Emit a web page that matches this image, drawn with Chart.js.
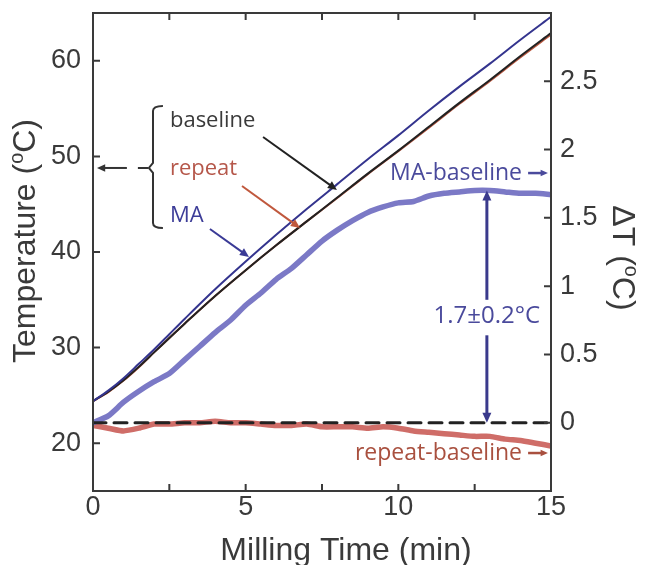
<!DOCTYPE html>
<html>
<head>
<meta charset="utf-8">
<title>Milling temperature</title>
<script src="https://cdn.jsdelivr.net/npm/chart.js@4.4.1/dist/chart.umd.min.js"></script>
<style>
  html, body { margin: 0; padding: 0; background: #fff; }
  #wrap { width: 645px; height: 565px; }
</style>
</head>
<body>
<div id="wrap"><canvas id="chart" width="645" height="565"></canvas></div>
<script>
// ---- Raw temperatures (left axis, °C) ----
const TIME = [0, 0.5, 1, 1.5, 2, 2.5, 3, 4, 5, 6, 7, 8, 9, 10, 11, 12, 13, 14, 15];
const BASELINE = [24.4, 25.4, 26.6, 28.0, 29.5, 31.0, 32.5, 35.4, 38.1, 40.7, 43.2, 45.7, 48.2, 50.6, 53.1, 55.6, 58.0, 60.5, 62.9];
const REPEAT = [24.4, 25.35, 26.55, 27.95, 29.5, 31.0, 32.5, 35.4, 38.1, 40.7, 43.2, 45.65, 48.15, 50.55, 53.0, 55.5, 57.9, 60.37, 62.75];
const MA = [24.4, 25.5, 26.8, 28.3, 29.8, 31.4, 33.0, 36.1, 39.0, 41.8, 44.5, 47.1, 49.7, 52.2, 54.8, 57.3, 59.7, 62.2, 64.6];

// ---- Differences against baseline (right axis, ΔT °C) ----
const TIME_DIFF = [0, 0.5, 1, 1.5, 2, 2.5, 3, 3.5, 4, 4.5, 5, 5.5, 6, 6.5, 7, 7.5, 8, 8.5, 9, 9.5, 10, 10.5, 11, 11.5, 12, 12.5, 13, 13.5, 14, 14.5, 15];
const MA_DIFF = [0.00, 0.05, 0.15, 0.23, 0.30, 0.36, 0.46, 0.56, 0.66, 0.75, 0.86, 0.95, 1.05, 1.13, 1.23, 1.33, 1.41, 1.48, 1.54, 1.58, 1.61, 1.62, 1.66, 1.68, 1.69, 1.70, 1.70, 1.69, 1.68, 1.68, 1.67];
const REPEAT_DIFF = [-0.02, -0.04, -0.06, -0.04, -0.01, -0.01, 0.00, 0.00, 0.01, 0.00, 0.00, -0.01, -0.02, -0.02, -0.01, -0.03, -0.03, -0.03, -0.04, -0.03, -0.04, -0.06, -0.07, -0.08, -0.09, -0.10, -0.10, -0.12, -0.13, -0.15, -0.17];

// ---- Axes ----
const X_TICKS = [0, 5, 10, 15];
const X_MINOR = [2.5, 7.5, 12.5];
const TEMP_TICKS = [20, 30, 40, 50, 60];
const DELTA_TICKS = [0, 0.5, 1, 1.5, 2, 2.5];
const PEAK_TIME = 12.9;
const PEAK_DELTA = 1.7;

const AXIS_FONT = '"Liberation Sans", Arial, sans-serif';
const NOTE_FONT = '"Open Sans", "Noto Sans", sans-serif';
const INK = '#3a3a3a';

const pts = (xs, ys) => xs.map((x, i) => ({ x, y: ys[i] }));

function arrow(ctx, x1, y1, x2, y2, color, width, head) {
  const ang = Math.atan2(y2 - y1, x2 - x1);
  ctx.save();
  ctx.strokeStyle = color;
  ctx.fillStyle = color;
  ctx.lineWidth = width;
  ctx.beginPath();
  ctx.moveTo(x1, y1);
  ctx.lineTo(x2 - Math.cos(ang) * head * 0.7, y2 - Math.sin(ang) * head * 0.7);
  ctx.stroke();
  ctx.beginPath();
  ctx.moveTo(x2, y2);
  ctx.lineTo(x2 - head * Math.cos(ang - 0.42), y2 - head * Math.sin(ang - 0.42));
  ctx.lineTo(x2 - head * Math.cos(ang + 0.42), y2 - head * Math.sin(ang + 0.42));
  ctx.closePath();
  ctx.fill();
  ctx.restore();
}

// axis title with a raised small "o" for degrees
function supTitle(ctx, x, y, angle, pre, sup, post, size) {
  ctx.save();
  ctx.translate(x, y);
  ctx.rotate(angle);
  const f = s => s + 'px ' + AXIS_FONT;
  ctx.font = f(size);
  const w1 = ctx.measureText(pre).width;
  const w3 = ctx.measureText(post).width;
  ctx.font = f(size * 0.62);
  const w2 = ctx.measureText(sup).width;
  let cx = -(w1 + w2 + w3) / 2;
  ctx.fillStyle = INK;
  ctx.textBaseline = 'alphabetic';
  ctx.font = f(size);
  ctx.fillText(pre, cx, 0);
  cx += w1;
  ctx.font = f(size * 0.62);
  ctx.fillText(sup, cx, -size * 0.38);
  cx += w2;
  ctx.font = f(size);
  ctx.fillText(post, cx, 0);
  ctx.restore();
}

function note(ctx, text, x, y, color, size, align) {
  ctx.save();
  ctx.font = size + 'px ' + NOTE_FONT;
  ctx.fillStyle = color;
  ctx.textAlign = align || 'left';
  ctx.textBaseline = 'alphabetic';
  ctx.fillText(text, x, y);
  ctx.restore();
}

const frameAndNotes = {
  id: 'frameAndNotes',
  afterDatasetsDraw(chart) {
    const { ctx, chartArea: a, scales } = chart;
    const X = v => scales.x.getPixelForValue(v);
    const T = v => scales.y.getPixelForValue(v);
    const D = v => scales.y1.getPixelForValue(v);

    // frame + inward ticks
    ctx.save();
    ctx.strokeStyle = INK;
    ctx.lineWidth = 2;
    ctx.strokeRect(a.left, a.top, a.right - a.left, a.bottom - a.top);
    ctx.beginPath();
    X_TICKS.concat(X_MINOR).forEach(v => {
      const px = X(v);
      ctx.moveTo(px, a.bottom); ctx.lineTo(px, a.bottom - 7);
      ctx.moveTo(px, a.top); ctx.lineTo(px, a.top + 7);
    });
    TEMP_TICKS.forEach(v => { ctx.moveTo(a.left, T(v)); ctx.lineTo(a.left + 7, T(v)); });
    DELTA_TICKS.forEach(v => { ctx.moveTo(a.right, D(v)); ctx.lineTo(a.right - 7, D(v)); });
    ctx.stroke();
    ctx.restore();

    // brace grouping the three raw traces, pointing at the left axis
    ctx.save();
    ctx.strokeStyle = '#333';
    ctx.lineWidth = 2;
    const bx = X(1.965), top = T(55.27), bot = T(42.51), mid = T(48.79);
    ctx.beginPath();
    ctx.moveTo(X(2.29), top);
    ctx.quadraticCurveTo(bx, top, bx, top + 5);
    ctx.lineTo(bx, mid - 5);
    ctx.lineTo(X(1.83), mid);
    ctx.lineTo(bx, mid + 5);
    ctx.lineTo(bx, bot - 5);
    ctx.quadraticCurveTo(bx, bot, X(2.29), bot);
    ctx.moveTo(X(1.80), mid);
    ctx.lineTo(X(1.47), mid);
    ctx.stroke();
    ctx.restore();
    arrow(ctx, X(1.11), mid, X(0.13), mid, '#333', 2, 9);

    note(ctx, 'baseline', X(2.52), T(53.08), '#3a3a3a', 22);
    note(ctx, 'repeat', X(2.52), T(48.05), '#b5574a', 22);
    note(ctx, 'MA', X(2.52), T(43.14), '#3d3d98', 22);
    arrow(ctx, X(5.57), T(52.03), X(7.99), T(46.49), '#222', 2, 10);
    arrow(ctx, X(4.88), T(46.9), X(6.78), T(42.51), '#c0583d', 2, 10);
    arrow(ctx, X(3.83), T(42.41), X(5.11), T(39.48), '#3a3a96', 2, 10);

    // right-hand labels for the difference traces
    note(ctx, 'MA-baseline', X(14.05), D(1.777), '#4a4a9c', 23, 'right');
    arrow(ctx, X(14.25), D(1.828), X(14.9), D(1.828), '#4a4a9c', 2.5, 8);
    note(ctx, 'repeat-baseline', X(14.05), D(-0.273), '#a9503f', 23, 'right');
    arrow(ctx, X(14.25), D(-0.222), X(14.9), D(-0.222), '#a9503f', 2.5, 8);

    // peak difference marker
    const px = X(PEAK_TIME);
    arrow(ctx, px, D(0.9), px, D(PEAK_DELTA), '#3a3a8c', 3, 11);
    arrow(ctx, px, D(0.64), px, D(0), '#3a3a8c', 3, 11);
    note(ctx, '1.7±0.2°C', px, D(0.73), '#4a4a9c', 24, 'center');
  },
  afterDraw(chart) {
    const { ctx } = chart;
    supTitle(ctx, 35, 241, -Math.PI / 2, 'Temperature (', 'o', 'C)', 32);
    supTitle(ctx, 613, 258, Math.PI / 2, 'ΔT (', 'o', 'C)', 32);
    ctx.save();
    ctx.font = '32px ' + AXIS_FONT;
    ctx.fillStyle = INK;
    ctx.textAlign = 'center';
    ctx.fillText('Milling Time (min)', 346, 560);
    ctx.restore();
  }
};

const tickFont = { family: AXIS_FONT, size: 27 };
const noPad = s => { s.paddingTop = 0; s.paddingBottom = 0; s.paddingLeft = 0; s.paddingRight = 0; };

new Chart(document.getElementById('chart'), {
  type: 'line',
  data: {
    datasets: [
      { label: 'zero', data: pts([0, 15], [0, 0]), yAxisID: 'y1', borderColor: '#222', borderWidth: 3, borderDash: [13, 8] },
      { label: 'MA', data: pts(TIME, MA), yAxisID: 'y', borderColor: '#34348e', borderWidth: 2, tension: 0.3 },
      { label: 'baseline', data: pts(TIME, BASELINE), yAxisID: 'y', borderColor: '#222', borderWidth: 2, tension: 0.3 },
      { label: 'repeat', data: pts(TIME, REPEAT), yAxisID: 'y', borderColor: '#b9573f', borderWidth: 2, tension: 0.3 },
      { label: 'MA-baseline', data: pts(TIME_DIFF, MA_DIFF), yAxisID: 'y1', borderColor: '#7b79c6', borderWidth: 5.5, tension: 0.2 },
      { label: 'repeat-baseline', data: pts(TIME_DIFF, REPEAT_DIFF), yAxisID: 'y1', borderColor: '#cf6d68', borderWidth: 5.5, tension: 0.2 }
    ]
  },
  options: {
    responsive: false,
    animation: false,
    devicePixelRatio: 1,
    layout: { padding: { top: 13, left: 0, right: 0, bottom: 0 } },
    elements: {
      point: { radius: 0 },
      line: { borderJoinStyle: 'round', borderCapStyle: 'round', fill: false }
    },
    plugins: { legend: { display: false }, tooltip: { enabled: false } },
    scales: {
      x: {
        type: 'linear', min: 0, max: 15,
        afterBuildTicks: s => { s.ticks = X_TICKS.map(v => ({ value: v })); },
        afterFit: s => { s.height = 74; noPad(s); },
        ticks: { font: tickFont, color: INK, padding: 0, maxRotation: 0 },
        grid: { display: false, drawTicks: false },
        border: { display: false }
      },
      y: {
        position: 'left', min: 15, max: 65,
        afterBuildTicks: s => { s.ticks = TEMP_TICKS.map(v => ({ value: v })); },
        afterFit: s => { s.width = 93; noPad(s); },
        ticks: { font: tickFont, color: INK, padding: 12 },
        grid: { display: false, drawTicks: false },
        border: { display: false }
      },
      y1: {
        position: 'right', min: -0.5, max: 3,
        afterBuildTicks: s => { s.ticks = DELTA_TICKS.map(v => ({ value: v })); },
        afterFit: s => { s.width = 94; noPad(s); },
        ticks: { font: tickFont, color: INK, padding: 9, callback: v => String(v) },
        grid: { display: false, drawTicks: false },
        border: { display: false }
      }
    }
  },
  plugins: [frameAndNotes]
});
</script>
</body>
</html>
